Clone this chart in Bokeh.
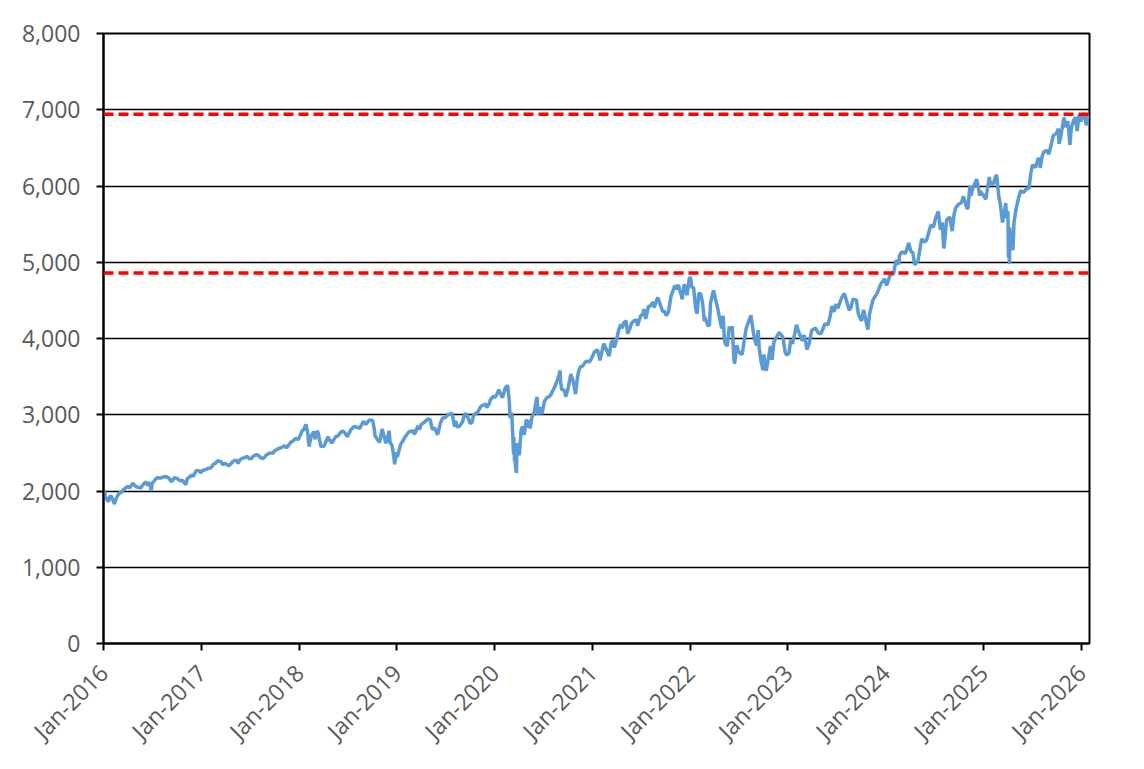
import pandas as pd
from math import pi
from bokeh.plotting import figure
from bokeh.models import FixedTicker, DatetimeTickFormatter, NumeralTickFormatter, Span
from bokeh.embed import file_html
from bokeh.resources import INLINE

# ---- data ----
d2016 = ["01-04","01-08","01-15","01-20","01-22","01-29","02-05","02-11","02-19","03-01","03-15","03-31",
         "04-15","04-20","04-29","05-13","05-19","05-31","06-08","06-15","06-23","06-27","07-01","07-15",
         "08-01","08-15","09-01","09-09","09-22","10-03","10-14","11-04","11-09","11-25","12-13","12-30",
         "03-08","04-07","05-05","07-08","07-22","08-23","09-13","10-21","11-18","12-01","12-23"]
v2016 = [2012,1922,1880,1859,1907,1940,1880,1829,1917,1978,2015,2060,
         2080,2102,2065,2046,2040,2097,2119,2071,2113,2000,2103,2162,
         2170,2190,2170,2128,2177,2161,2133,2085,2163,2213,2271,2239,
         1979,2041,2051,2130,2175,2186,2127,2141,2182,2191,2263]

d2017 = ["01-13","01-26","02-15","03-01","03-15","03-31","04-13","04-28","05-16","05-17","06-01","06-19",
         "06-30","07-14","07-31","08-10","08-18","09-01","09-15","10-02","10-16","11-01","11-15","12-01",
         "12-18","12-29",
         "01-04","02-03","02-24","03-21","05-05","05-24","06-09","07-07","07-26","08-25","09-25","10-23",
         "11-08","11-28","12-08"]
v2017 = [2275,2297,2350,2396,2385,2363,2329,2384,2400,2357,2430,2453,
         2423,2459,2470,2438,2425,2476,2500,2529,2557,2579,2564,2642,
         2690,2674,
         2270,2297,2367,2344,2399,2404,2432,2425,2477,2444,2496,2564,
         2594,2627,2652]

d2018 = ["01-12","01-26","02-02","02-08","02-16","02-26","03-09","03-23","04-02","04-18","05-03","05-18",
         "06-12","06-29","07-13","07-25","08-10","08-29","09-20","10-03","10-11","10-29","11-07","11-23",
         "12-03","12-14","12-24","12-31",
         "01-19","02-05","02-09","03-01","03-13","04-06","04-26","05-25","06-06","06-20","07-02","08-15",
         "09-07","10-10","10-24","11-20","12-07","12-20"]
v2018 = [2786,2873,2762,2581,2732,2780,2786,2588,2582,2708,2630,2713,
         2786,2718,2801,2846,2833,2914,2931,2925,2728,2641,2814,2633,
         2790,2600,2351,2507,
         2810,2649,2620,2678,2765,2604,2666,2721,2772,2767,2726,2818,
         2872,2785,2656,2641,2633,2467]

d2019 = ["01-15","01-31","02-15","03-01","03-08","03-21","04-01","04-15","04-30","05-13","05-31","06-03",
         "06-20","07-01","07-26","08-05","08-09","08-23","09-12","10-02","10-15","10-31","11-15","11-29",
         "12-03","12-16","12-31",
         "01-03","01-25","02-28","03-27","04-23","05-06","05-23","06-12","07-15","07-18","08-14","09-03",
         "09-19","10-08","10-25","11-08","12-12","12-27"]
v2019 = [2610,2704,2776,2804,2743,2855,2867,2906,2946,2812,2752,2744,
         2954,2964,3026,2844,2919,2847,3009,2887,2996,3038,3120,3141,
         3093,3191,3231,
         2448,2665,2784,2805,2934,2932,2823,2879,3014,2995,2840,2906,
         3006,2893,3023,3093,3142,3240]

d2020 = ["01-17","01-31","02-19","02-28","03-03","03-09","03-12","03-13","03-16","03-23","03-26","04-01",
         "04-09","04-21","04-29","05-13","05-29","06-08","06-11","06-26","07-15","07-31","08-14","09-02",
         "09-08","09-23","10-12","10-30","11-09","11-24","12-08","12-31",
         "01-03","01-08","01-27","02-10","02-24","02-26","03-05","03-17","03-18","03-20","03-24","04-03",
         "04-14","05-01","05-08","05-20","06-05","06-19","07-06","07-23","08-03","08-28","09-04","09-18",
         "10-02","10-21","11-04","11-16","12-21"]
v2020 = [3330,3226,3386,2954,3003,2747,2481,2711,2386,2237,2630,2471,
         2790,2737,2940,2820,3044,3232,3002,3009,3227,3271,3373,3580,
         3332,3237,3534,3270,3550,3635,3702,3756,
         3235,3253,3244,3352,3226,3116,3024,2529,2398,2305,2447,2489,
         2846,2831,2930,2971,3194,3098,3180,3235,3295,3508,3427,3319,
         3348,3436,3443,3627,3694]

d2021 = ["01-08","01-29","02-12","03-04","03-17","03-31","04-16","04-29","05-12","05-28","06-15","06-30",
         "07-19","07-29","08-16","08-31","09-02","09-20","10-04","10-21","11-05","11-18","11-30","12-10",
         "12-20","12-29",
         "01-20","01-27","02-25","03-12","03-24","04-08","04-22","05-07","05-19","06-04","06-18","07-08",
         "07-12","08-05","08-19","09-10","09-28","10-12","11-10","11-26","12-01","12-03"]
v2021 = [3825,3714,3934,3768,3974,3973,4185,4211,4063,4204,4246,4297,
         4258,4419,4479,4523,4537,4358,4300,4549,4697,4704,4567,4712,
         4568,4793,
         3851,3751,3829,3943,3881,4097,4135,4232,4116,4230,4167,4320,
         4385,4429,4406,4459,4353,4351,4646,4595,4513,4538]

d2022 = ["01-03","01-14","01-27","02-02","02-09","02-23","03-08","03-29","04-14","04-29","05-12","05-20",
         "06-01","06-07","06-16","06-24","07-14","08-16","09-01","09-12","09-30","10-04","10-12","10-28",
         "11-03","11-10","11-30","12-13","12-28",
         "01-07","01-21","02-16","02-24","03-14","03-18","04-05","04-26","05-04","05-09","05-27","06-13",
         "07-01","07-29","08-26","09-06","09-16","09-23","10-07","10-21","11-15","12-01","12-22"]
v2022 = [4796,4663,4326,4589,4587,4225,4170,4632,4392,4132,3930,3901,
         4101,4160,3667,3912,3790,4305,3967,4110,3586,3791,3577,3901,
         3720,3956,4080,4019,3783,
         4677,4398,4475,4288,4173,4463,4525,4175,4300,3991,4158,3750,
         3825,4130,4058,3908,3873,3693,3640,3752,3991,4076,3822]

d2023 = ["01-05","01-18","02-02","02-24","03-07","03-13","03-31","04-25","05-12","05-31","06-15","06-30",
         "07-31","08-18","09-01","09-14","09-27","10-03","10-11","10-27","11-14","12-01","12-28",
         "01-12","01-27","02-10","03-03","03-22","04-14","05-04","05-19","06-08","06-23","07-07","07-21",
         "08-08","08-25","09-21","10-20","11-02","11-24","12-13"]
v2023 = [3808,3929,4179,3970,3986,3855,4109,4071,4124,4180,4426,4450,
         4589,4370,4516,4505,4274,4229,4377,4117,4496,4595,4783,
         3983,4071,4090,4045,3937,4137,4061,4192,4293,4348,4398,4536,
         4499,4406,4330,4224,4317,4559,4708]

d2024 = ["01-05","01-19","02-09","03-01","03-28","04-19","05-15","05-31","06-18","07-16","07-24","08-05",
         "08-16","09-06","09-30","10-18","10-31","11-11","11-15","12-06","12-18","12-31",
         "01-31","02-20","02-22","03-08","03-15","04-04","04-12","05-01","05-23","06-07","06-28","07-05",
         "07-31","08-07","08-28","09-13","09-19","10-10","11-04","11-22","12-10","12-20"]
v2024 = [4697,4840,5026,5137,5254,4967,5308,5278,5487,5667,5427,5186,
         5554,5408,5762,5864,5705,6001,5870,6090,5872,5882,
         4846,4975,5087,5124,5117,5147,5123,5018,5268,5347,5460,5567,
         5522,5199,5592,5626,5713,5780,5712,5969,6034,5930]

d2025 = ["01-10","01-23","02-19","03-10","03-13","03-25","04-03","04-04","04-08","04-09","04-21","05-02",
         "05-12","05-30","06-13","06-27","07-15","07-31","08-01","08-15","09-02","09-19","10-08","10-10",
         "10-28","11-20","12-11","12-24",
         "01-02","01-17","01-27","01-31","02-07","02-14","02-27","03-04","03-18","03-28","04-02","04-07",
         "04-11","04-16","04-25","05-20","06-05","06-20","07-03","07-24","08-08","08-26","09-10","09-30",
         "10-16","10-29","11-04","11-12","11-25","12-05","12-17","12-31"]
v2025 = [5827,6119,6144,5614,5522,5777,5397,5074,4982,5457,5158,5687,
         5844,5912,5977,6173,6244,6339,6238,6450,6415,6664,6753,6552,
         6891,6538,6901,6932,
         5868,5997,6012,6041,6026,6115,5861,5778,5615,5581,5671,5062,
         5363,5275,5525,5940,5939,5967,6279,6363,6389,6466,6532,6688,
         6629,6890,6771,6850,6766,6870,6721,6845]

d2026 = ["01-06","01-12","01-20","01-27"]
v2026 = [6944,6940,6797,6930]

levels = [6940, 4858]          # peak level and 30% below peak
year_ticks = [str(y) + "-01-01" for y in range(2016, 2027)]
y_ticks = [0, 1000, 2000, 3000, 4000, 5000, 6000, 7000, 8000]
x_start, x_end = "2016-01-01", "2026-02-01"

years = [("2016", d2016, v2016), ("2017", d2017, v2017), ("2018", d2018, v2018),
         ("2019", d2019, v2019), ("2020", d2020, v2020), ("2021", d2021, v2021),
         ("2022", d2022, v2022), ("2023", d2023, v2023), ("2024", d2024, v2024),
         ("2025", d2025, v2025), ("2026", d2026, v2026)]
frames = []
for y, ds, vs in years:
    frames.append(pd.DataFrame({"date": pd.to_datetime([y + "-" + d for d in ds]), "close": vs}))
df = pd.concat(frames).sort_values("date")

def ms(s):
    return pd.Timestamp(s).value / 1e6

p = figure(width=1128, height=769, x_axis_type="datetime",
           x_range=(ms(x_start), ms(x_end)), y_range=(0, 8000),
           output_backend="svg", toolbar_location=None,
           min_border_left=103, min_border_right=39, min_border_top=33, min_border_bottom=126)
p.background_fill_color = "white"
p.border_fill_color = "white"
p.outline_line_color = "black"
p.outline_line_width = 2

p.xgrid.visible = False
p.ygrid.grid_line_color = "black"
p.ygrid.grid_line_width = 1.5
p.ygrid.ticker = FixedTicker(ticks=y_ticks)

p.line(df["date"], df["close"], line_color="#5B9BD5", line_width=3.5)

for lv in levels:
    p.add_layout(Span(location=lv, dimension="width", line_color="#FF0000",
                      line_width=3.5, line_dash="10 5", level="overlay"))

fmt = "%b-%Y"
p.xaxis.ticker = FixedTicker(ticks=[ms(t) for t in year_ticks])
p.xaxis.formatter = DatetimeTickFormatter(years=fmt, months=fmt, days=fmt, hours=fmt,
                                          minutes=fmt, seconds=fmt, milliseconds=fmt,
                                          microseconds=fmt, context=None)
p.xaxis.major_label_orientation = pi / 4
p.yaxis.ticker = FixedTicker(ticks=y_ticks)
p.yaxis.formatter = NumeralTickFormatter(format="0,0")

for ax in (p.xaxis, p.yaxis):
    ax.axis_line_color = "black"
    ax.axis_line_width = 2
    ax.major_tick_line_color = "black"
    ax.major_tick_line_width = 2
    ax.major_tick_out = 7
    ax.major_tick_in = 0
    ax.minor_tick_line_color = None
    ax.major_label_text_font = "Open Sans"
    ax.major_label_text_font_size = "23px"
    ax.major_label_text_color = "#595959"
p.yaxis.major_label_standoff = 16
p.xaxis.major_label_standoff = 18

open("out.html", "w").write(file_html(p, INLINE))
